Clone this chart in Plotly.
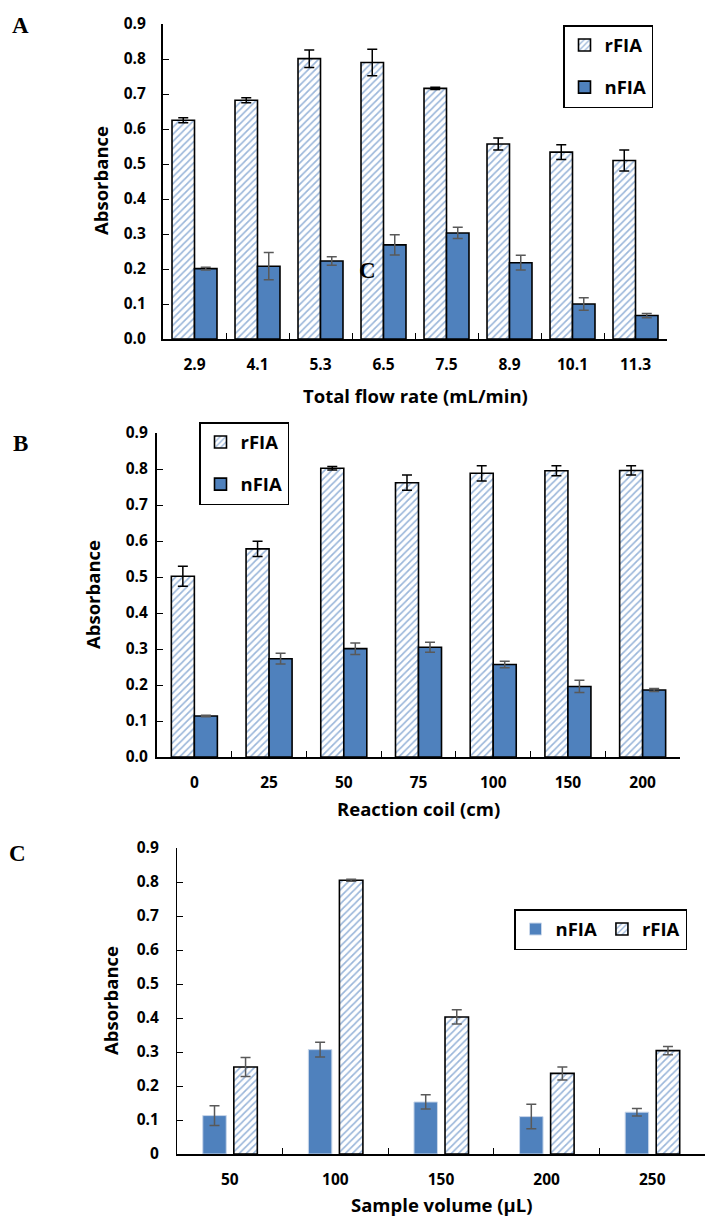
import plotly.graph_objects as go

# ---------------- data ----------------
A_categories = ["2.9", "4.1", "5.3", "6.5", "7.5", "8.9", "10.1", "11.3"]
A_rfia = [0.625, 0.682, 0.801, 0.790, 0.716, 0.557, 0.534, 0.510]
A_rfia_err = [0.007, 0.007, 0.025, 0.038, 0.003, 0.017, 0.021, 0.030]
A_nfia = [0.201, 0.208, 0.223, 0.269, 0.303, 0.218, 0.100, 0.067]
A_nfia_err = [0.004, 0.039, 0.012, 0.029, 0.016, 0.021, 0.018, 0.006]

B_categories = ["0", "25", "50", "75", "100", "150", "200"]
B_rfia = [0.502, 0.578, 0.802, 0.762, 0.788, 0.795, 0.796]
B_rfia_err = [0.028, 0.021, 0.005, 0.021, 0.021, 0.014, 0.013]
B_nfia = [0.114, 0.273, 0.301, 0.305, 0.257, 0.196, 0.186]
B_nfia_err = [0.002, 0.015, 0.016, 0.014, 0.009, 0.017, 0.004]

C_categories = ["50", "100", "150", "200", "250"]
C_nfia = [0.113, 0.307, 0.153, 0.110, 0.123]
C_nfia_err = [0.029, 0.022, 0.021, 0.036, 0.011]
C_rfia = [0.256, 0.805, 0.403, 0.237, 0.304]
C_rfia_err = [0.028, 0.003, 0.021, 0.019, 0.012]

AB_tickvals = [0.0, 0.1, 0.2, 0.3, 0.4, 0.5, 0.6, 0.7, 0.8, 0.9]
AB_ticktext = ["0.0", "0.1", "0.2", "0.3", "0.4", "0.5", "0.6", "0.7", "0.8", "0.9"]
C_ticktext = ["0", "0.1", "0.2", "0.3", "0.4", "0.5", "0.6", "0.7", "0.8", "0.9"]

# ---------------- styling ----------------
W, H = 705, 1217
FONT = "Open Sans"
BLUE = "#4F81BD"
HATCH = "#9AB6DA"
GRAY = "#595959"

def px_x(p):
    return p / W

def px_y(p):
    return 1 - p / H

hatch = dict(shape="/", fgcolor=HATCH, bgcolor="white", size=5, solidity=0.33, fillmode="replace")

fig = go.Figure()

def add_bar(x, y, err, name, xa, ya, legend, group, width, offset, hatched, line_w, line_c, err_c):
    marker = dict(line=dict(color=line_c, width=line_w))
    if hatched:
        marker["color"] = "white"
        marker["pattern"] = hatch
    else:
        marker["color"] = BLUE
    fig.add_trace(go.Bar(
        x=x, y=y, name=name, xaxis=xa, yaxis=ya, legend=legend, legendgroup=group,
        width=width, offset=offset, marker=marker,
        error_y=dict(type="data", array=err, visible=True, color=err_c, thickness=1.5, width=5),
    ))

# Panel A
wA = 0.357
add_bar(A_categories, A_rfia, A_rfia_err, "rFIA", "x", "y", "legend", "a1", wA, -wA, True, 1.6, "black", "black")
add_bar(A_categories, A_nfia, A_nfia_err, "nFIA", "x", "y", "legend", "a2", wA, 0, False, 1.6, "black", GRAY)
# Panel B
wB = 0.308
add_bar(B_categories, B_rfia, B_rfia_err, "rFIA", "x2", "y2", "legend2", "b1", wB, -wB, True, 1.6, "black", "black")
add_bar(B_categories, B_nfia, B_nfia_err, "nFIA", "x2", "y2", "legend2", "b2", wB, 0, False, 1.6, "black", GRAY)
# Panel C
wC = 0.2225
add_bar(C_categories, C_nfia, C_nfia_err, "nFIA", "x3", "y3", "legend3", "c1", wC, -0.256, False, 1, "#C9D7EA", GRAY)
add_bar(C_categories, C_rfia, C_rfia_err, "rFIA", "x3", "y3", "legend3", "c2", wC, 0.038, True, 1.6, "black", GRAY)

tickfont = dict(family=FONT, size=15.5, color="black", weight="bold")

def xaxis(domain, anchor, standoff):
    return dict(domain=domain, anchor=anchor, type="category", showline=True, linecolor="black",
                linewidth=2.2, ticks="inside", tickson="boundaries", ticklen=6, tickwidth=1.2,
                tickcolor="black", showgrid=False, zeroline=False, tickfont=tickfont,
                ticklabelstandoff=standoff, automargin=False, fixedrange=True)

def yaxis(domain, anchor, ticktext, standoff, lw):
    return dict(domain=domain, anchor=anchor, range=[0, 0.9], tickmode="array", tickvals=AB_tickvals,
                ticktext=ticktext, showline=True, linecolor="black", linewidth=lw, ticks="inside",
                ticklen=6, tickwidth=1.2, tickcolor="black", showgrid=False, zeroline=False,
                tickfont=tickfont, ticklabelstandoff=standoff, automargin=False, fixedrange=True)

legfont = dict(family=FONT, size=18.5, color="black", weight="bold")

fig.update_layout(
    width=W, height=H, margin=dict(l=0, r=0, t=0, b=0, pad=0, autoexpand=False),
    paper_bgcolor="white", plot_bgcolor="white", barmode="overlay",
    xaxis=xaxis([px_x(163), px_x(667)], "y", 10),
    yaxis=yaxis([px_y(339), px_y(24)], "x", AB_ticktext, 12, 2),
    xaxis2=xaxis([px_x(157), px_x(680)], "y2", 10),
    yaxis2=yaxis([px_y(757), px_y(433)], "x2", AB_ticktext, 4, 2),
    xaxis3=xaxis([px_x(177), 1.0], "y3", 10),
    yaxis3=yaxis([px_y(1154), px_y(848)], "x3", C_ticktext, 14, 1.2),
    legend=dict(x=px_x(563), y=px_y(25), xanchor="left", yanchor="top", bordercolor="black",
                borderwidth=1.5, bgcolor="white", font=legfont, tracegroupgap=15,
                traceorder="grouped", itemwidth=30, entrywidth=52, entrywidthmode="pixels"),
    legend2=dict(x=px_x(199), y=px_y(422), xanchor="left", yanchor="top", bordercolor="black",
                 borderwidth=1.5, bgcolor="white", font=legfont, tracegroupgap=15,
                 traceorder="grouped", itemwidth=30),
    legend3=dict(x=px_x(514), y=px_y(909), xanchor="left", yanchor="top", bordercolor="black",
                 borderwidth=1.5, bgcolor="white", font=legfont, orientation="h",
                 traceorder="normal", itemwidth=30),
    showlegend=True,
)

titlefont = dict(family=FONT, size=18.5, color="black", weight="bold")
letterfont = dict(family="Liberation Serif", size=23, color="black", weight="bold")

annotations = [
    dict(text="Total flow rate (mL/min)", x=px_x(415), y=px_y(395), font=titlefont, textangle=0),
    dict(text="Reaction coil (cm)", x=px_x(418), y=px_y(808), font=titlefont, textangle=0),
    dict(text="Sample volume (µL)", x=px_x(442), y=px_y(1204), font=titlefont, textangle=0),
    dict(text="Absorbance", x=px_x(100), y=px_y(181), font=titlefont, textangle=-90),
    dict(text="Absorbance", x=px_x(92), y=px_y(595), font=titlefont, textangle=-90),
    dict(text="Absorbance", x=px_x(110), y=px_y(1001), font=titlefont, textangle=-90),
    dict(text="A", x=px_x(20), y=px_y(25), font=letterfont, textangle=0),
    dict(text="B", x=px_x(20), y=px_y(443), font=letterfont, textangle=0),
    dict(text="C", x=px_x(17), y=px_y(853), font=letterfont, textangle=0),
    dict(text="C", x=px_x(367), y=px_y(271), font=letterfont, textangle=0),
]
for a in annotations:
    fig.add_annotation(xref="paper", yref="paper", showarrow=False, xanchor="center", yanchor="middle", **a)

fig.write_html("out.html", config={"displayModeBar": False},
               post_script="document.body.style.margin='0';document.body.style.overflow='hidden';")
